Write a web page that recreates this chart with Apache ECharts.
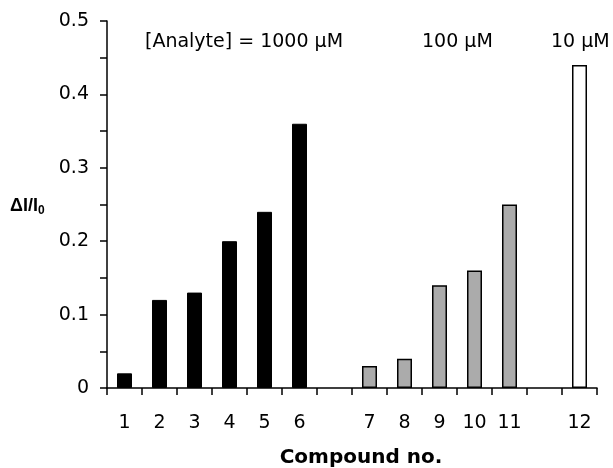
<!DOCTYPE html>
<html>
<head>
<meta charset="utf-8">
<script src="https://cdn.jsdelivr.net/npm/echarts@6/dist/echarts.min.js"></script>
<style>
  html, body { margin: 0; padding: 0; background: #fff; }
  #chart { width: 613px; height: 468px; }
</style>
</head>
<body>
<div id="chart"></div>
<script>
// compound numbers, '' = spacer slot between concentration groups
const compounds = ['1', '2', '3', '4', '5', '6', '', '7', '8', '9', '10', '11', '', '12'];
const deltaI = [0.02, 0.12, 0.13, 0.20, 0.24, 0.36, null, 0.03, 0.04, 0.14, 0.16, 0.25, null, 0.44];
// which concentration each slot belongs to
const groups = ['1000', '1000', '1000', '1000', '1000', '1000', '', '100', '100', '100', '100', '100', '', '10'];
const yTicks = [0, 0.1, 0.2, 0.3, 0.4, 0.5];

const groupStyle = {
    '1000': { color: '#000000', borderColor: '#000000', borderWidth: 1 },
    '100': { color: '#ababab', borderColor: '#000000', borderWidth: 1.5 },
    '10': { color: '#ffffff', borderColor: '#000000', borderWidth: 1.5 }
};

const barData = deltaI.map(function (v, i) {
    if (v === null) return '-';
    return { value: v, itemStyle: groupStyle[groups[i]] };
});

const FONT = '"DejaVu Sans", Arial, sans-serif';
const NARROW = '"Liberation Sans", Arial, sans-serif';

const chart = echarts.init(document.getElementById('chart'));

chart.setOption({
    backgroundColor: '#ffffff',
    animation: false,
    // keep the plot box fixed, labels may sit near the edge
    grid: { left: 107, right: 16, top: 21, bottom: 80, containLabel: false, outerBoundsMode: 'none' },
    xAxis: {
        type: 'category',
        data: compounds,
        boundaryGap: true,
        axisLine: { lineStyle: { color: '#000', width: 1.5 } },
        axisTick: { show: true, alignWithLabel: false, interval: 0, length: 7, lineStyle: { color: '#000', width: 1.5 } },
        axisLabel: { interval: 0, margin: 26, color: '#000', fontSize: 19, fontFamily: FONT },
        name: 'Compound no.',
        nameLocation: 'middle',
        nameGap: 60,
        nameTextStyle: { color: '#000', fontSize: 20, fontWeight: 'bold', fontFamily: FONT, padding: [0, 0, 0, 18] }
    },
    yAxis: {
        type: 'value',
        min: yTicks[0],
        max: yTicks[yTicks.length - 1],
        interval: 0.1,
        splitLine: { show: false },
        axisLine: { show: true, lineStyle: { color: '#000', width: 1.5 } },
        axisTick: { show: true, length: 7, lineStyle: { color: '#000', width: 1.5 } },
        minorTick: { show: true, splitNumber: 2, length: 7, lineStyle: { color: '#000', width: 1.5 } },
        axisLabel: {
            margin: 18, color: '#000', fontSize: 19, fontFamily: FONT,
            formatter: function (v) { return v === 0 ? '0' : v.toFixed(1); }
        }
    },
    series: [{
        type: 'bar',
        data: barData,
        barWidth: 15
    }],
    graphic: [
        {
            type: 'text', left: 145, top: 33,
            style: { text: '[Analyte] = 1000 \u03bcM', fill: '#000', font: '19px ' + FONT }
        },
        {
            type: 'text', left: 422, top: 33,
            style: { text: '100 \u03bcM', fill: '#000', font: '19px ' + FONT }
        },
        {
            type: 'text', left: 551, top: 33,
            style: { text: '10 \u03bcM', fill: '#000', font: '19px ' + FONT }
        },
        {
            type: 'text', left: 10, top: 197,
            style: {
                text: '{a|\u0394I/I}{s|0}',
                rich: {
                    a: { fill: '#000', fontSize: 18, fontWeight: 'bold', fontFamily: NARROW },
                    s: { fill: '#000', fontSize: 12, fontWeight: 'bold', fontFamily: NARROW, padding: [9, 0, 0, 0] }
                }
            }
        }
    ]
});
</script>
</body>
</html>
